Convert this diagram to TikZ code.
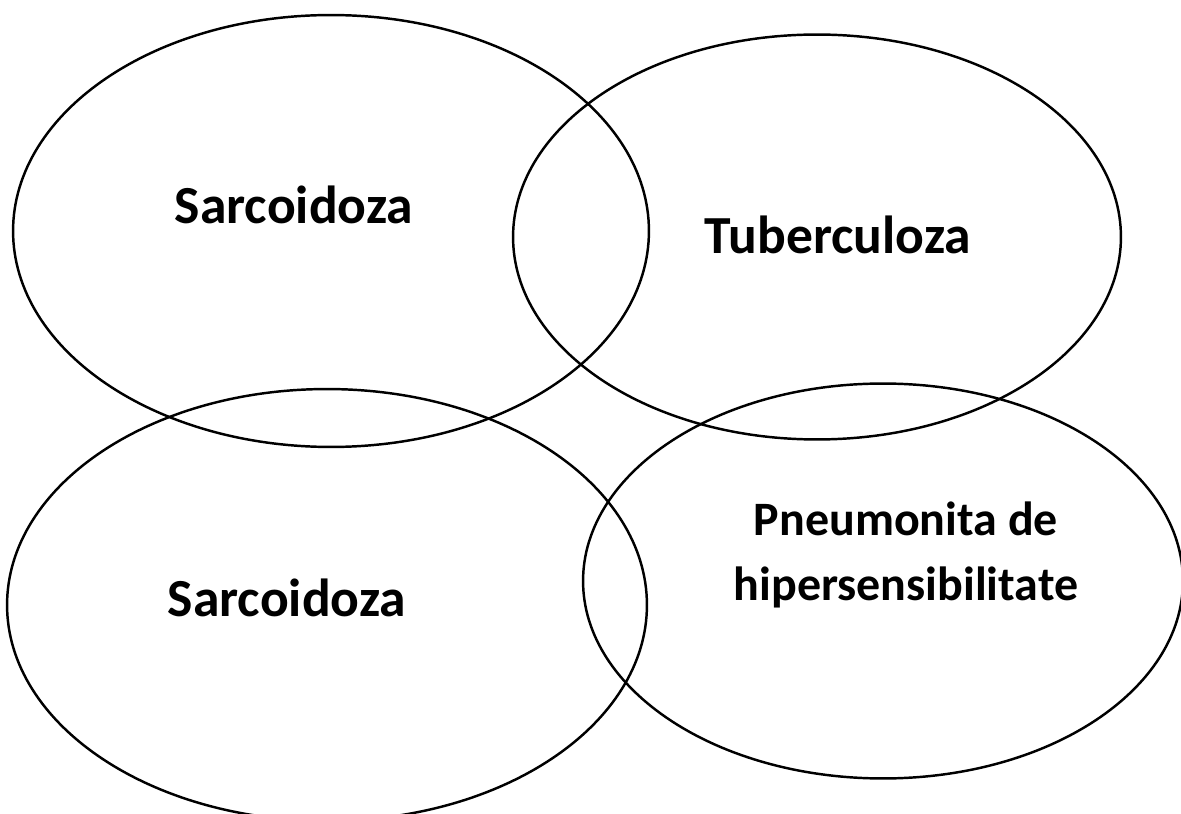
\documentclass[tikz,border=0pt]{standalone}
\usepackage{fontspec}
\setmainfont{Carlito}
\usetikzlibrary{shapes.geometric}
\tikzstyle{oval} = [ellipse, draw=black, line width=1.4pt, inner sep=0pt]
\tikzstyle{disease} = [font=\bfseries\fontsize{30.5}{37}\selectfont, text centered, align=center]
\tikzstyle{smalldisease} = [font=\bfseries\fontsize{27.3}{37}\selectfont, text centered, align=center]

\begin{document}
\begin{tikzpicture}[x=0.02cm, y=-0.02cm]
\useasboundingbox (0,0) rectangle (1181,814);

\node (sarc1) [oval, minimum width=12.72cm, minimum height=8.64cm] at (331,231) {};
\node (tbc) [oval, minimum width=12.16cm, minimum height=8.1cm] at (817,237) {};
\node (sarc2) [oval, minimum width=12.8cm, minimum height=8.64cm] at (327,605) {};
\node (pnh) [oval, minimum width=12cm, minimum height=7.9cm] at (883,581) {};

\node (sarc1text) [disease] at (294,205) {Sarcoidoza};
\node (tbctext) [disease] at (838,235) {Tuberculoza};
\node (sarc2text) [disease] at (287,598) {Sarcoidoza};
\node (pnhtext) [smalldisease] at (906,555) {Pneumonita de\\hipersensibilitate};

\end{tikzpicture}
\end{document}
